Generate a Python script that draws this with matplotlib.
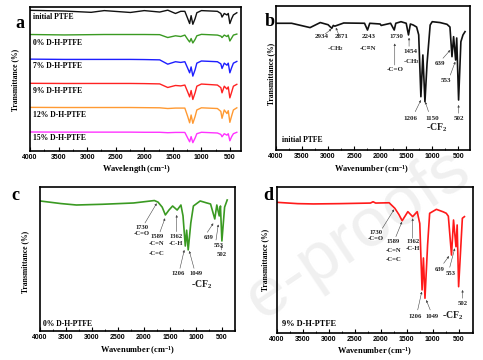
import matplotlib
matplotlib.use('Agg')
import matplotlib.pyplot as plt
from matplotlib.ticker import MultipleLocator

plt.rcParams['font.family'] = ['Liberation Serif', 'DejaVu Serif']
plt.rcParams['font.weight'] = 'bold'
plt.rcParams['mathtext.fontset'] = 'custom'
plt.rcParams['mathtext.rm'] = 'Liberation Serif:bold'
plt.rcParams['mathtext.it'] = 'Liberation Serif:bold'
plt.rcParams['mathtext.bf'] = 'Liberation Serif:bold'

# ---------------- data ----------------
# panel a: stacked spectra
wn_a = [4000, 3400, 2930, 2700, 2243, 2000, 1730, 1589, 1454, 1362, 1290, 1240, 1206,
        1180, 1150, 1110, 1080, 1000, 720, 660, 639, 600, 553, 530, 502, 470, 440, 380]
labels_a = ['initial PTFE', '0% D-H-PTFE', '7% D-H-PTFE', '9% D-H-PTFE',
            '12% D-H-PTFE', '15% D-H-PTFE']
colors_a = ['#111111', '#3a9a22', '#1e1eff', '#ff2222', '#ff9a33', '#ff33ff']
initial_a = [97.7, 97.2, 96.3, 97.5, 96.2, 97.5, 96.5, 97.8, 95.5, 97, 97, 92, 88.5,
             94, 88, 92, 96, 97.5, 97, 95.5, 93, 95.5, 94.5, 95.5, 88.5, 92, 94.5, 96]
dh0_a = [80.9, 80.6, 80.8, 80.9, 80.9, 80.9, 80.8, 78.8, 80, 79.5, 80.5, 77.5, 75.7,
         78.1, 75, 77.5, 80, 81, 80.5, 79.8, 78.8, 80.5, 79.5, 80.5, 76.4, 78.5, 80.5, 81.2]
dh7_a = [63.8, 63.6, 63.6, 63.6, 63.6, 63.5, 63.3, 60.3, 62, 61.5, 62, 57.5, 54.3,
         58.4, 52, 56.5, 61, 62.5, 62, 60.5, 57.3, 61, 59.6, 61, 54.3, 58, 61, 62.2]
dh9_a = [47, 46.9, 46.9, 46.9, 46.9, 46.8, 46.6, 44.1, 45.5, 45.2, 45.8, 41, 37.6,
         42, 35.8, 40.5, 45, 46.5, 45.8, 44, 40.4, 45, 43, 44.5, 36.9, 41, 45, 46.3]
dh12_a = [30.3, 30.2, 30.2, 30.2, 30.2, 30.1, 30, 29.5, 29.8, 29.8, 29.8, 24, 19.6,
          25, 19.2, 24, 28.5, 30, 29.5, 27.5, 22.7, 28.5, 26, 28, 19.9, 24.5, 28.5, 30]
dh15_a = [13.2, 13.1, 13.1, 13.1, 13.1, 13, 13, 12.7, 12.9, 12.9, 12.9, 9, 6.4,
          10, 5.8, 9, 12, 13, 12.5, 11.5, 9.9, 12, 11, 12, 7.1, 10, 12, 13]
label_y_a = [0.93, 0.75, 0.59, 0.42, 0.25, 0.088]

# panel b: initial PTFE
wn_b = [4000, 3700, 3346, 3150, 3000, 2929, 2900, 2871, 2700, 2300, 2243, 2200, 2000,
        1980, 1800, 1730, 1700, 1600, 1500, 1456, 1420, 1365, 1300, 1260, 1218, 1180,
        1140, 1100, 1040, 1000, 850, 717, 660, 621, 590, 551, 530, 494, 450, 410, 370]
val_b = [88, 88, 85, 88.5, 87, 84.5, 86.5, 86, 88.2, 88, 83.3, 88, 87.5, 86.5, 88,
         83.3, 88, 89.1, 88, 79.9, 87.5, 86.8, 85.4, 80, 37, 66, 33.5, 60, 86.8, 89.1,
         88.5, 87.3, 85.4, 64.8, 78.7, 62.5, 77.8, 34.7, 75.2, 79.9, 82.2]

# panel c: 0% D-H-PTFE
wn_c = [4000, 3600, 3300, 2800, 2200, 1800, 1730, 1650, 1589, 1520, 1450, 1362, 1290,
        1250, 1206, 1180, 1150, 1100, 1050, 920, 800, 720, 639, 600, 553, 530, 502,
        450, 400]
val_c = [90.3, 88.5, 87.5, 88, 88.9, 90.6, 89.5, 86, 80.6, 84, 86.8, 84, 87.5, 80,
         59, 70, 56.3, 75, 86.8, 90.3, 89, 88.2, 77.8, 87.5, 79.9, 86.8, 62.5, 86, 91]

# panel d: 9% D-H-PTFE
wn_d = [4000, 3600, 3300, 2800, 2200, 2150, 2100, 1840, 1730, 1650, 1589, 1480, 1387,
        1300, 1250, 1206, 1180, 1150, 1100, 1060, 930, 800, 740, 700, 639, 600, 553,
        530, 502, 430, 390]
val_d = [89.5, 88.6, 88.4, 88.6, 89, 89.9, 89, 89.2, 85.4, 81, 76.9, 83.1, 79.7, 83.1,
         75, 29.5, 51.4, 23.8, 60, 82, 84.7, 83, 82, 80, 53.4, 77.4, 59.1, 74, 31.7,
         78.6, 79.7]

# annotations: (text, text_xy, arrow tail, arrow head)
notes_b = [
    ('2934', (3121, 79), (3058, 80.5), (2935, 84)),
    ('2871', (2737, 79), (2800, 80.5), (2850, 85)),
    ('-CH$_2$', (2865, 70.6), None, None),
    ('2243', (2225, 79), None, None),
    ('-C≡N', (2225, 70.6), None, None),
    ('1730', (1690, 79), None, None),
    ('', None, (1720, 59), (1720, 74)),
    ('-C=O', (1712, 55.6), None, None),
    ('1454', (1423, 68.3), (1445, 72), (1445, 78)),
    ('-CH$_3$', (1390, 61.3), None, None),
    ('1206', (1423, 22), (1327, 26.6), (1217, 34.7)),
    ('1150', (1006, 22), (1071, 26.6), (1135, 33.5)),
    ('-CF$_2$', (910, 15.5), None, None),
    ('639', (846, 60.2), (794, 63.7), (654, 69.4)),
    ('553', (731, 48.6), (654, 52), (558, 61.3)),
    ('502', (494, 22), (494, 25.5), (494, 31.3)),
]
notes_c = [
    ('1730', (2044, 71.7), (1981, 75), (1756, 88.7)),
    ('-C=O', (2044, 67.8), None, None),
    ('1589', (1756, 65.5), (1692, 68.8), (1596, 78.3)),
    ('-C=N', (1756, 60.9), None, None),
    ('-C=C', (1756, 54), None, None),
    ('1362', (1385, 65.5), (1371, 69), (1371, 80.6)),
    ('-C-H', (1385, 60.9), None, None),
    ('1206', (1340, 40), (1308, 43.5), (1225, 56.3)),
    ('1049', (1000, 40), (1038, 43.5), (1129, 55.6)),
    ('-CF$_2$', (890, 32), None, None),
    ('639', (763, 64.8), (783, 68.5), (667, 74.8)),
    ('553', (571, 59.7), (615, 63.2), (571, 74)),
    ('502', (506, 53.3), (506, 56.3), (506, 59.5)),
]
notes_d = [
    ('1730', (2099, 68.7), (1971, 71.7), (1743, 84.7)),
    ('-C=O', (2099, 64.4), None, None),
    ('1589', (1763, 62.5), (1710, 66), (1593, 76.2)),
    ('-C=N', (1763, 56.8), None, None),
    ('-C=C', (1763, 50.5), None, None),
    ('1362', (1387, 62.5), (1387, 64.9), (1387, 78.6)),
    ('-C-H', (1387, 58), None, None),
    ('1206', (1335, 11.2), (1290, 15.8), (1212, 28.3)),
    ('1049', (1010, 11.2), (1049, 15.8), (1126, 22.6)),
    ('-CF$_2$', (609, 11.6), None, None),
    ('639', (867, 43.2), (790, 47.7), (686, 52.7)),
    ('553', (660, 40.9), (673, 45), (576, 58)),
    ('502', (426, 20.3), (426, 23.8), (426, 29.5)),
]

# ---------------- figure ----------------
W, H = 483, 360
fig = plt.figure(figsize=(W / 100, H / 100), dpi=100)


def px_axes(left, top, right, bottom):
    return fig.add_axes([left / W, 1 - bottom / H, (right - left) / W, (bottom - top) / H])


def style(ax, xmax_right):
    ax.set_xlim(4000, xmax_right)
    ax.set_ylim(0, 100)
    ax.set_yticks([])
    ax.xaxis.set_major_locator(MultipleLocator(500))
    ax.xaxis.set_minor_locator(MultipleLocator(250))
    ax.tick_params(axis='x', which='major', direction='in', length=3, width=0.8,
                   labelsize=5, pad=2)
    ax.tick_params(axis='x', which='minor', direction='in', length=1.8, width=0.6)
    for lab in ax.get_xticklabels():
        lab.set_family('Liberation Sans')
        lab.set_fontweight('bold')
    for s in ax.spines.values():
        s.set_linewidth(1.2)
    ax.patch.set_alpha(0)


def annotate(ax, notes, size=5):
    for txt, pos, tail, head in notes:
        if tail is not None:
            ax.annotate('', xy=head, xytext=tail,
                        arrowprops=dict(arrowstyle='-|>', lw=0.4, color='#444444',
                                        mutation_scale=3, shrinkA=0, shrinkB=0))
        if pos is not None:
            fs = 7 if 'CF' in txt else size
            ax.text(pos[0], pos[1], txt, ha='center', va='center', fontsize=fs,
                    fontweight='bold', color='#222222')


# faint watermark, lower right, behind the axes
fig.text(262 / W, 1 - 320 / H, 'e-proofs', rotation=34, rotation_mode='anchor',
         ha='left', va='baseline', fontsize=50, color='#f0f0f0',
         family='Liberation Sans', fontweight='normal', zorder=-5)

# panel a
ax_a = px_axes(30, 7, 241, 151)
series_a = [initial_a, dh0_a, dh7_a, dh9_a, dh12_a, dh15_a]
for vals, col, lab, ly in zip(series_a, colors_a, labels_a, label_y_a):
    ax_a.plot(wn_a, vals, color=col, lw=1.0)
    ax_a.text(0.012, ly, lab, transform=ax_a.transAxes, fontsize=5.5,
              fontweight='bold', va='center', ha='left')
style(ax_a, 307)

# panel b
ax_b = px_axes(276, 6, 470, 150)
ax_b.plot(wn_b, val_b, color='#111111', lw=1.2)
annotate(ax_b, notes_b)
ax_b.text(0.03, 0.07, 'initial PTFE', transform=ax_b.transAxes, fontsize=5.5,
          fontweight='bold', va='center')
style(ax_b, 275)

# panel c
ax_c = px_axes(40, 187, 235, 331)
ax_c.plot(wn_c, val_c, color='#3a9a22', lw=1.2)
annotate(ax_c, notes_c, size=4.8)
ax_c.text(0.016, 0.047, '0% D-H-PTFE', transform=ax_c.transAxes, fontsize=5.5,
          fontweight='bold', va='center')
style(ax_c, 250)

# panel d
ax_d = px_axes(277, 187, 473, 333)
ax_d.plot(wn_d, val_d, color='#ff1a1a', lw=1.2)
annotate(ax_d, notes_d, size=4.8)
ax_d.text(0.025, 0.062, '9% D-H-PTFE', transform=ax_d.transAxes, fontsize=6,
          fontweight='bold', va='center')
style(ax_d, 225)

# panel letters
for lab, x, y in [('a', 20, 23), ('b', 270, 21), ('c', 15, 196), ('d', 268, 195)]:
    fig.text(x / W, 1 - y / H, lab, fontsize=13, fontweight='bold', ha='center',
             va='center')

# y labels
for x, y in [(15, 80), (271, 74), (25, 262), (265, 260)]:
    fig.text(x / W, 1 - y / H, 'Transmittance (%)', rotation=90, fontsize=5.5,
             fontweight='bold', ha='center', va='center')

# x labels
for lab, x, y in [('Wavelength (cm$^{-1}$)', 137, 169), ('Wavenumber (cm$^{-1}$)', 372, 170),
                  ('Wavenumber (cm$^{-1}$)', 138, 351), ('Wavenumber (cm$^{-1}$)', 375, 352)]:
    fig.text(x / W, 1 - y / H, lab, fontsize=6, fontweight='bold', ha='center',
             va='center')

plt.savefig('out.png', dpi=100)
plt.close()
